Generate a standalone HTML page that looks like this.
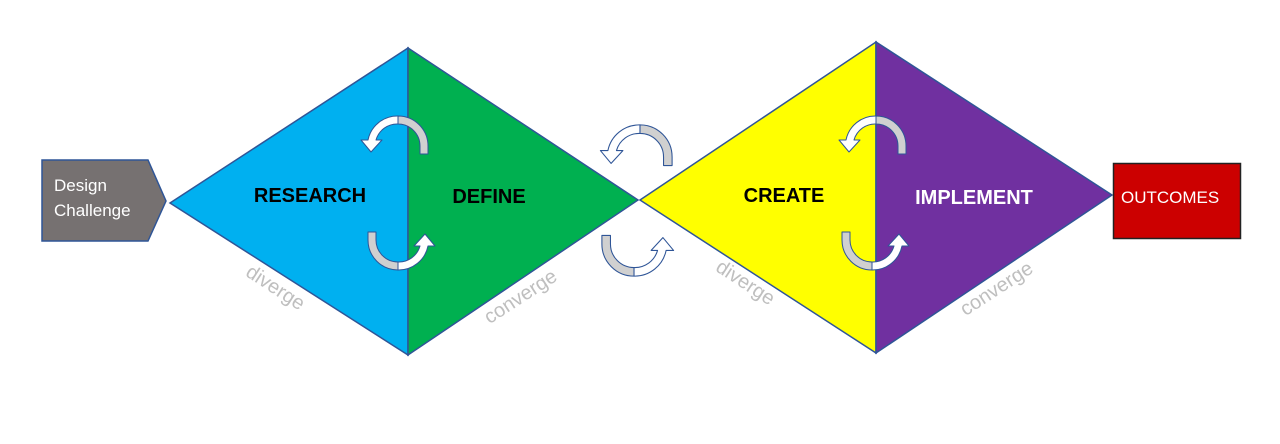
<!DOCTYPE html>
<html><head><meta charset="utf-8"><style>
html,body{margin:0;padding:0;background:#fff;width:1280px;height:444px;overflow:hidden}
svg{display:block}
text{font-family:"Liberation Sans",sans-serif}
</style></head><body>
<svg width="1280" height="444" viewBox="0 0 1280 444">
<defs>
<g id="arr" stroke="#2f5597" stroke-width="1" stroke-linejoin="round">
  <path d="M-30,-6 A30 30 0 0 1 0,-30 L0,-22 A22 22 0 0 0 -22,-6 L-16,-6 L-27,6 L-37,-6 Z" fill="#fff"/>
  <path d="M0,-30 A30 30 0 0 1 30,0 L30,8 L22,8 L22,0 A22 22 0 0 0 0,-22 Z" fill="#d0d0d0"/>
</g>
</defs>
<!-- design challenge -->
<polygon points="42,160 148,160 166,201 148,241 42,241" fill="#767171" stroke="#2f5597" stroke-width="1.5"/>
<text x="54" y="191" font-size="17" fill="#fff">Design</text>
<text x="54" y="216" font-size="17" fill="#fff">Challenge</text>
<!-- diamond 1 -->
<polygon points="170,203 408,48 408,355" fill="#00b0f0" stroke="#2f5597" stroke-width="1.5"/>
<polygon points="408,48 638,200 408,355" fill="#00b050" stroke="#2f5597" stroke-width="1.5"/>
<!-- diamond 2 -->
<polygon points="640,200 876,42 876,353" fill="#ffff00" stroke="#2f5597" stroke-width="1.5"/>
<polygon points="876,42 1112,195 876,353" fill="#7030a0" stroke="#2f5597" stroke-width="1.5"/>
<!-- outcomes -->
<rect x="1113.5" y="163.5" width="127" height="75" fill="#cc0000" stroke="#222" stroke-width="1.5"/>
<text x="1121" y="203" font-size="17" fill="#fff">OUTCOMES</text>
<!-- labels -->
<text x="310" y="202" font-size="20" font-weight="bold" text-anchor="middle" fill="#000">RESEARCH</text>
<text x="489" y="203" font-size="20" font-weight="bold" text-anchor="middle" fill="#000">DEFINE</text>
<text x="784" y="202" font-size="20" font-weight="bold" text-anchor="middle" fill="#000">CREATE</text>
<text x="974" y="204" font-size="20" font-weight="bold" text-anchor="middle" fill="#fff">IMPLEMENT</text>
<text x="272" y="293" font-size="20" fill="#bfbfbf" text-anchor="middle" transform="rotate(33 272 293)">diverge</text>
<text x="524" y="302" font-size="20" fill="#bfbfbf" text-anchor="middle" transform="rotate(-33 524 302)">converge</text>
<text x="742" y="288" font-size="20" fill="#bfbfbf" text-anchor="middle" transform="rotate(33 742 288)">diverge</text>
<text x="1000" y="294" font-size="20" fill="#bfbfbf" text-anchor="middle" transform="rotate(-33 1000 294)">converge</text>
<!-- arrows -->
<use href="#arr" transform="translate(398,146)"/>
<use href="#arr" transform="translate(398,240) rotate(180)"/>
<use href="#arr" transform="translate(640,157) scale(1.07)"/>
<use href="#arr" transform="translate(634,244) rotate(180) scale(1.07)"/>
<use href="#arr" transform="translate(876,146)"/>
<use href="#arr" transform="translate(872,240) rotate(180)"/>
</svg>
</body></html>
